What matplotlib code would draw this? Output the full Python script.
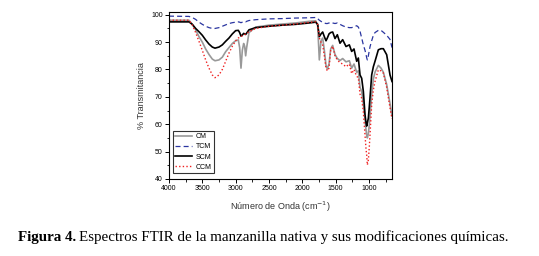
import numpy as np
import matplotlib
matplotlib.use('Agg')
import matplotlib.pyplot as plt
from matplotlib.ticker import MultipleLocator

plt.rcParams['font.family'] = ['Liberation Sans', 'DejaVu Sans']

# wavenumber grid (cm-1) shared by the four spectra
wn = [4000, 3700, 3650, 3600, 3550, 3500, 3450, 3400, 3350, 3310,
      3250, 3200, 3150, 3100, 3050, 3000, 2960, 2940, 2920, 2900,
      2880, 2865, 2850, 2835, 2800, 2700, 2500, 2300, 2100, 1900,
      1800, 1770, 1745, 1720, 1695, 1670, 1645, 1625, 1600, 1575,
      1545, 1510, 1475, 1435, 1395, 1345, 1295, 1260, 1225, 1185,
      1160, 1135, 1110, 1085, 1060, 1045, 1035, 1025, 1010, 995,
      985, 960, 935, 910, 860, 820, 785, 735, 685, 655]

cm = [98.0, 98.0, 96.5, 94.5, 92.0, 90.0, 87.5, 85.5, 83.8, 83.2,
      83.5, 84.5, 86.5, 88.0, 89.5, 90.5, 90.8, 88.0, 80.5, 87.0,
      89.5, 88.5, 85.0, 88.0, 93.5, 95.5, 96.2, 96.6, 97.0, 97.6,
      97.8, 96.0, 83.5, 90.5, 91.5, 87.0, 81.5, 80.2, 82.0, 87.5,
      88.8, 85.5, 84.0, 83.3, 84.0, 82.8, 83.2, 80.5, 82.0, 79.0,
      79.5, 73.5, 72.0, 67.5, 62.0, 58.0, 56.0, 55.0, 56.5, 60.0,
      63.0, 70.5, 76.5, 79.0, 81.5, 80.5, 79.0, 74.5, 67.5, 63.0]

tcm = [99.5, 99.4, 99.0, 98.3, 97.3, 96.5, 95.8, 95.3, 95.0, 95.0,
       95.3, 95.8, 96.3, 96.8, 97.1, 97.3, 97.4, 97.3, 97.1, 97.3,
       97.5, 97.5, 97.4, 97.6, 97.9, 98.2, 98.5, 98.6, 98.8, 98.9,
       99.0, 98.6, 98.0, 97.6, 97.2, 97.0, 96.8, 96.8, 97.0, 97.2,
       97.0, 96.8, 97.0, 96.5, 96.0, 95.5, 95.3, 95.3, 95.6, 96.0,
       95.5, 94.0, 91.5, 89.0, 87.0, 85.5, 84.3, 83.5, 85.0, 87.0,
       88.3, 90.5, 92.5, 93.5, 94.3, 94.3, 93.6, 92.5, 91.0, 88.0]

scm = [97.4, 97.4, 96.5, 95.0, 93.8, 92.5, 90.8, 89.3, 88.2, 87.8,
       88.2, 89.0, 90.3, 91.5, 93.0, 94.2, 94.3, 93.5, 92.2, 92.6,
       93.2, 93.0, 92.8, 93.3, 94.5, 95.3, 95.8, 96.2, 96.5, 97.0,
       97.3, 96.5, 92.0, 93.0, 93.7, 92.0, 90.5, 91.5, 93.0, 93.5,
       93.7, 91.3, 92.7, 89.6, 90.9, 88.4, 89.0, 86.6, 87.5, 83.0,
       84.2, 78.0, 76.8, 72.0, 63.5, 60.5, 59.3, 60.5, 62.2, 66.5,
       69.7, 78.0, 81.0, 83.0, 87.2, 87.6, 87.6, 85.4, 78.0, 75.6]

ccm = [98.0, 98.0, 96.3, 93.5, 90.3, 87.0, 83.5, 80.5, 78.0, 77.0,
       78.0, 80.0, 83.0, 86.0, 88.5, 90.5, 91.5, 91.8, 92.0, 92.3,
       92.6, 92.8, 93.0, 93.2, 93.8, 95.0, 95.8, 96.2, 96.6, 97.2,
       97.4, 96.5, 91.5, 90.0, 89.0, 85.0, 80.5, 79.5, 80.5, 87.0,
       88.5, 85.0, 83.5, 82.5, 82.0, 81.0, 82.0, 78.5, 80.0, 77.5,
       77.0, 71.0, 69.5, 64.6, 56.1, 51.0, 48.8, 45.1, 46.9, 52.0,
       56.1, 67.1, 72.5, 75.6, 79.9, 79.5, 78.7, 73.5, 66.0, 62.0]

fig = plt.figure(figsize=(5.39, 2.56), dpi=100)
ax = fig.add_axes([0.3135, 0.301, 0.4138, 0.652])

ax.plot(wn, cm, color='#999999', lw=1.2, label='CM')
ax.plot(wn, tcm, color='#2a35a0', lw=0.9, ls=(0, (4, 2.5)), label='TCM')
ax.plot(wn, scm, color='black', lw=1.2, label='SCM')
ax.plot(wn, ccm, color='#f02020', lw=1.0, ls=(0, (1, 1.6)), label='CCM')

ax.set_xlim(4000, 655)
ax.set_ylim(40, 101)
ax.xaxis.set_major_locator(MultipleLocator(500))
ax.xaxis.set_minor_locator(MultipleLocator(250))
ax.yaxis.set_major_locator(MultipleLocator(10))
ax.yaxis.set_minor_locator(MultipleLocator(5))
ax.tick_params(which='major', direction='out', length=3, width=0.7,
               labelsize=5, pad=1.5)
ax.tick_params(which='minor', direction='out', length=1.8, width=0.6)
for s in ax.spines.values():
    s.set_linewidth(0.8)

ax.set_ylabel('% Transmitancia', fontsize=6.5, color='#333333', labelpad=4)
ax.set_xlabel('Número de Onda (cm$^{-1}$)', fontsize=6.5, color='#333333',
              labelpad=5)

leg = ax.legend(loc='lower left', bbox_to_anchor=(0.018, 0.035),
                fontsize=5, frameon=True, fancybox=False,
                handlelength=2.4, handletextpad=0.5, labelspacing=0.45,
                borderpad=0.35, borderaxespad=0)
leg.get_frame().set_edgecolor('black')
leg.get_frame().set_linewidth(0.8)

# caption: bold lead-in followed by regular text
t1 = fig.text(18 / 539, 0.072, 'Figura 4.', fontsize=10.8, fontweight='bold',
              family='Liberation Serif', va='center', ha='left')
renderer = fig.canvas.get_renderer()
bb = t1.get_window_extent(renderer)
x2 = (bb.x1 + 3) / fig.bbox.width
fig.text(x2, 0.072,
         'Espectros FTIR de la manzanilla nativa y sus modificaciones químicas.',
         fontsize=10.8, family='Liberation Serif', va='center', ha='left')

fig.savefig('out.png', dpi=100)
